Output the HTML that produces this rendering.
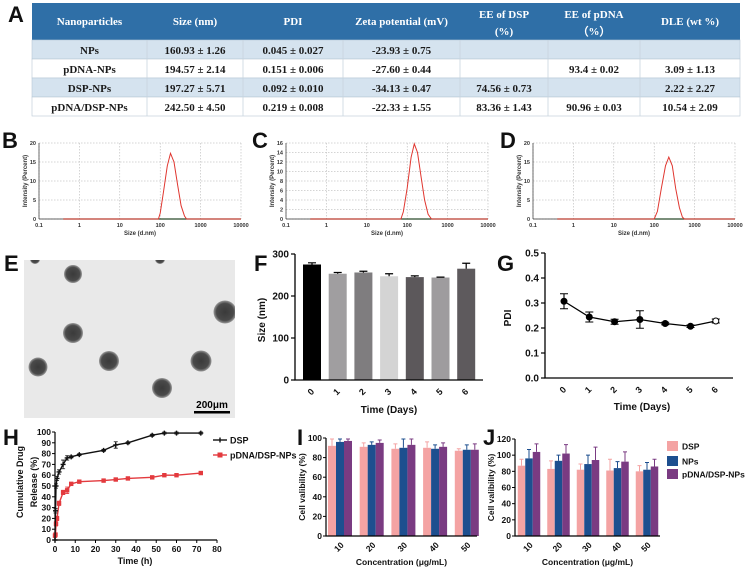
<!DOCTYPE html>
<html><head><meta charset="utf-8"><style>
html,body{margin:0;padding:0;background:#fff}
svg{display:block}
.ser{font-family:"Liberation Serif",serif;font-weight:bold}
.san{font-family:"Liberation Sans",sans-serif;font-weight:bold}
</style></head><body>
<svg id="fig" width="745" height="573" viewBox="0 0 745 573" xmlns="http://www.w3.org/2000/svg"></svg>
<script>
// ---------- data ----------
const tableHeaders = [["Nanoparticles"],["Size (nm)"],["PDI"],["Zeta potential (mV)"],["EE of DSP","(%)"],["EE of pDNA","（%）"],["DLE (wt %)"]];
const tableRows = [
 ["NPs","160.93 ± 1.26","0.045 ± 0.027","-23.93 ± 0.75","","",""],
 ["pDNA-NPs","194.57 ± 2.14","0.151 ± 0.006","-27.60 ± 0.44","","93.4 ± 0.02","3.09 ± 1.13"],
 ["DSP-NPs","197.27 ± 5.71","0.092 ± 0.010","-34.13 ± 0.47","74.56 ± 0.73","","2.22 ± 2.27"],
 ["pDNA/DSP-NPs","242.50 ± 4.50","0.219 ± 0.008","-22.33 ± 1.55","83.36 ± 1.43","90.96 ± 0.03","10.54 ± 2.09"]];
const dlsBSize = [0.4,90,100,120,150,180,220,270,330,400,450,10000];
const dlsBInt  = [0,0,1.5,7,14,17.3,15,9,3.5,0.8,0,0];
const dlsCSize = [0.4,70,80,100,125,150,180,220,270,330,400,10000];
const dlsCInt  = [0,0,1.5,6.5,13,15.8,14,9,4,1,0,0];
const dlsDSize = [0.4,100,120,150,190,230,280,340,420,500,560,10000];
const dlsDInt  = [0,0,2,8,14,16.3,14,8,3,0.5,0,0];
const fDays = ["0","1","2","3","4","5","6"];
const fSize = [275,253,256,247,245,244,265];
const fErr  = [4,3,3,6,3,1,13];
const gPdi  = [0.307,0.244,0.225,0.234,0.218,0.207,0.228];
const gErr  = [0.03,0.02,0.01,0.035,0.005,0.005,0.008];
const hTime = [0,0.25,0.5,1,2,4,6,8,12,24,30,36,48,54,60,72];
const hDsp  = [0,27,50,57,63,70,76,77,79,83,88,90,97,99,99,99];
const hDspErr=[0,2,2,2,2,4,2,1,1,1,3,1,1,1,1,1];
const hNp   = [4,5,15,20,34,44,46,52,54,55,56,57,58,60,60,62];
const hNpErr= [1,1,2,2,2,2,3,1,1,1,1,1,1,1,1,1];
const concLabels = ["10","20","30","40","50"];
const iDsp = [92,91,89,90,87], iDspE=[7,4,5,6,2];
const iNps = [96,93,90,89,88], iNpsE=[3,3,9,4,5];
const iPd  = [97,95,93,91,88], iPdE =[2,3,6,4,6];
const jDsp = [87,83,82,81,80], jDspE=[8,10,7,14,7];
const jNps = [96,93,89,84,82], jNpsE=[11,7,11,8,9];
const jPd  = [104,102,94,92,86], jPdE=[10,11,16,12,9];

// ---------- helpers ----------
const NS="http://www.w3.org/2000/svg";
const svg=document.getElementById('fig');
function mk(tag,attrs,parent){const e=document.createElementNS(NS,tag);for(const k in attrs)e.setAttribute(k,attrs[k]);(parent||svg).appendChild(e);return e;}
function txt(s,x,y,size,cls,anchor,parent,extra){const e=mk('text',Object.assign({x:x,y:y,'font-size':size,class:cls,'text-anchor':anchor||'middle',fill:'#111'},extra||{}),parent);e.textContent=s;return e;}
function grp(){return mk('g',{});}

// panel letters
const letters=[["A",8,22],["B",2,148],["C",252,148],["D",500,148],["E",4,271],["F",254,271],["G",497,271],["H",3,445],["I",297,445],["J",483,445]];
for(const L of letters){const t=txt(L[0],L[1],L[2],22,'san','start');

}

// ---------- A table ----------
(function(){
const g=grp();


const cols=[32,147,243,343,460,548,640,740];
const rowY=[40,59,78,97,116];
mk('rect',{x:32,y:3,width:708,height:37,fill:'#2f6fa7'},g);
for(let r=0;r<4;r++){const rc=mk('rect',{x:32,y:rowY[r],width:708,height:19,fill:r%2==0?'#d5e3ef':'#ffffff',stroke:'#b8c8d6','stroke-width':0.6},g);

}
for(let c=1;c<7;c++){mk('line',{x1:cols[c],y1:40,x2:cols[c],y2:116,stroke:'#c8d4de','stroke-width':0.8},g);}
for(let c=0;c<7;c++){const cx=(cols[c]+cols[c+1])/2;const h=tableHeaders[c];
 if(h.length==1){const t=txt(h[0],cx,25,11,'ser','middle',g,{fill:'#fff'});}
 else{const t=txt(h[0],cx,18,11,'ser','middle',g,{fill:'#fff'});
 const t2=txt(h[1],cx,35,11,'ser','middle',g,{fill:'#fff'});}
}
for(let r=0;r<4;r++)for(let c=0;c<7;c++){if(!tableRows[r][c])continue;
 const t=txt(tableRows[r][c],(cols[c]+cols[c+1])/2,rowY[r]+14,11,'ser','middle',g,{fill:'#1a1a1a'});
 
 }
})();

// ---------- DLS B/C/D ----------
function dls(name,x0,x1,ymax,ystep,sizes,ints){
 const g=grp();
 
 
 const y0=219,yt=143;
 const sx=v=>x0+(Math.log10(v)+1)/5*(x1-x0);
 const sy=v=>y0-v/ymax*(y0-yt);
 for(let d=-1;d<=4;d++){const x=sx(Math.pow(10,d));mk('line',{x1:x,y1:yt,x2:x,y2:y0,stroke:'#aaa','stroke-width':0.5,'stroke-dasharray':'1.5,1.5'},g);
  const t=txt(String(Math.pow(10,d)).replace('0.1','0.1'),x,227,5.5,'san','middle',g,{fill:'#333'});
  
  }
 for(let v=0;v<=ymax;v+=ystep){const y=sy(v);mk('line',{x1:x0,y1:y,x2:x1,y2:y,stroke:'#aaa','stroke-width':0.5,'stroke-dasharray':'1.5,1.5'},g);
  const t=txt(String(v),x0-3,y+2,5.5,'san','end',g,{fill:'#333'});
  
  }
 mk('line',{x1:x0,y1:yt,x2:x0,y2:y0,stroke:'#333','stroke-width':0.7},g);
 mk('line',{x1:x0,y1:y0,x2:x1,y2:y0,stroke:'#333','stroke-width':0.7},g);
 mk('line',{x1:sx(0.4),y1:y0,x2:x1,y2:y0,stroke:'#2a4a2a','stroke-width':1.2},g);
 const pts=sizes.map((s,i)=>sx(s).toFixed(1)+','+sy(ints[i]).toFixed(1)).join(' ');
 const pl=mk('polyline',{points:pts,fill:'none',stroke:'#e0362f','stroke-width':1},g);
 
 
 const xt=txt('Size (d.nm)',(x0+x1)/2,235,6,'san','middle',g,{fill:'#333'});
 
 
 const yl=txt('Intensity (Percent)',0,0,6,'san','middle',g,{fill:'#333',transform:`translate(${x0-12},${(y0+yt)/2}) rotate(-90)`});
 
 
}
dls('dls-chart-b',39,241,20,5,dlsBSize,dlsBInt);
dls('dls-chart-c',286,488,16,2,dlsCSize,dlsCInt);
dls('dls-chart-d',533,735,20,5,dlsDSize,dlsDInt);

// ---------- E TEM image ----------
(function(){
const g=grp();


const defs=mk('defs',{},g);
const rg=mk('radialGradient',{id:'dot'},defs);
mk('stop',{offset:'0','stop-color':'#3a3a3a'},rg);mk('stop',{offset:'0.75','stop-color':'#4a4a4a'},rg);mk('stop',{offset:'1','stop-color':'#9a9a9a'},rg);
mk('clipPath',{id:'ec'},defs).appendChild(document.createElementNS(NS,'rect'));
const cr=defs.querySelector('#ec rect');cr.setAttribute('x',24);cr.setAttribute('y',260);cr.setAttribute('width',211);cr.setAttribute('height',158);
mk('rect',{x:24,y:260,width:211,height:158,fill:'#e9e9e9'},g);
const cg=mk('g',{'clip-path':'url(#ec)'},g);
const dots=[[73,274,9],[73,333,10],[38,367,9.5],[109,361,10],[162,388,10],[201,361,10.5],[225,312,11.5],[35,259,5],[160,259,5]];
for(const d of dots){const c=mk('circle',{cx:d[0],cy:d[1],r:d[2],fill:'url(#dot)'},cg);

}
const sb=mk('rect',{x:194,y:411,width:36,height:2.5,fill:'#000'},g);


const st=txt('200μm',212,408,10,'san','middle',g,{fill:'#000','font-weight':'normal'});


})();

// ---------- F bar chart ----------
(function(){
const g=grp();


const x0=295,x1=483,y0=380,ppu=0.42;
const sy=v=>y0-v*ppu, sx=i=>312+i*25.7;
const cols=['#000','#a09ea0','#7f7d7f','#d4d4d4','#5c585b','#9e9c9e','#5e5a5d'];
for(let i=0;i<fSize.length;i++){
 const b=mk('rect',{x:sx(i)-9,y:sy(fSize[i]),width:18,height:fSize[i]*ppu,fill:cols[i]},g);
 
 
 const e=mk('path',{d:`M${sx(i)},${sy(fSize[i])} V${sy(fSize[i]+fErr[i])} M${sx(i)-4},${sy(fSize[i]+fErr[i])} H${sx(i)+4}`,stroke:'#000','stroke-width':1.2,fill:'none'},g);
 
 
 const t=txt(fDays[i],0,0,9,'san','middle',g,{transform:`translate(${sx(i)+1},${y0+14}) rotate(-45)`});
 
 
}
mk('path',{d:`M${x0},${sy(300)} V${y0} H${x1}`,stroke:'#000','stroke-width':1.3,fill:'none'},g);
for(let v=0;v<=300;v+=100){mk('line',{x1:x0-4,y1:sy(v),x2:x0,y2:sy(v),stroke:'#000','stroke-width':1.2},g);
 const t=txt(String(v),x0-6,sy(v)+3.5,10,'san','end',g);
 
 }
const xt=txt('Time (Days)',389,413,10,'san','middle',g);


const yt=txt('Size (nm)',0,0,10,'san','middle',g,{transform:`translate(${265},${320}) rotate(-90)`});


})();

// ---------- G line chart ----------
(function(){
const g=grp();


const x0=545,x1=733,y0=378,ppu=250;
const sy=v=>y0-v*ppu, sx=i=>564+i*25.3;
mk('path',{d:`M${x0},${sy(0.5)} V${y0} H${x1}`,stroke:'#000','stroke-width':1.3,fill:'none'},g);
for(let k=0;k<=5;k++){const v=k/10;mk('line',{x1:x0-4,y1:sy(v),x2:x0,y2:sy(v),stroke:'#000','stroke-width':1.2},g);
 const t=txt(v.toFixed(1),x0-6,sy(v)+3.5,10,'san','end',g);
 
 }
const ln=mk('polyline',{points:gPdi.map((v,i)=>sx(i)+','+sy(v)).join(' '),fill:'none',stroke:'#000','stroke-width':1.3},g);


for(let i=0;i<gPdi.length;i++){
 const a=sy(gPdi[i]+gErr[i]),b=sy(gPdi[i]-gErr[i]),x=sx(i);
 const e=mk('path',{d:`M${x},${a} V${b} M${x-4},${a} H${x+4} M${x-4},${b} H${x+4}`,stroke:'#000','stroke-width':1.1,fill:'none'},g);
 
 
 const p=mk('circle',{cx:x,cy:sy(gPdi[i]),r:3,fill:i==6?'#fff':'#000',stroke:'#000','stroke-width':1},g);
 
 
 const t=txt(fDays[i],0,0,9,'san','middle',g,{transform:`translate(${x+1},${y0+14}) rotate(-45)`});
 
 
}
const xt=txt('Time (Days)',642,410,10,'san','middle',g);


const yt=txt('PDI',0,0,10,'san','middle',g,{transform:`translate(${511},${318}) rotate(-90)`});


})();

// ---------- H release ----------
(function(){
const g=grp();


const x0=55,x1=217,y0=540,yt=432;
const sx=v=>x0+v/80*(x1-x0), sy=v=>y0-v/100*(y0-yt);
mk('path',{d:`M${x0},${yt} V${y0} H${x1}`,stroke:'#000','stroke-width':1.2,fill:'none'},g);
for(let v=0;v<=100;v+=10){mk('line',{x1:x0-3,y1:sy(v),x2:x0,y2:sy(v),stroke:'#000'},g);
 const t=txt(String(v),x0-4,sy(v)+3,8.5,'san','end',g);
 
 }
for(let v=0;v<=80;v+=10){mk('line',{x1:sx(v),y1:y0,x2:sx(v),y2:y0+3,stroke:'#000'},g);
 const t=txt(String(v),sx(v),y0+12,8.5,'san','middle',g);
 
 }
function series(vals,errs,color,marker,name){
 const l=mk('polyline',{points:hTime.map((t,i)=>sx(t)+','+sy(vals[i])).join(' '),fill:'none',stroke:color,'stroke-width':1.4},g);
 
 
 hTime.forEach((t,i)=>{const x=sx(t),a=sy(vals[i]+errs[i]),b=sy(vals[i]-errs[i]);
  mk('path',{d:`M${x},${a} V${b} M${x-2},${a} H${x+2} M${x-2},${b} H${x+2}`,stroke:color,'stroke-width':0.8,fill:'none'},g);
  let m;
  if(marker=='sq'){m=mk('rect',{x:x-2.2,y:sy(vals[i])-2.2,width:4.4,height:4.4,fill:color},g);}
  else{m=mk('path',{d:`M${x-2.5},${sy(vals[i])} H${x+2.5} M${x},${sy(vals[i])-2.5} V${sy(vals[i])+2.5}`,stroke:color,'stroke-width':1.4},g);}
  
  
 });
}
series(hNp,hNpErr,'#e33a3e','sq','pdna-dsp-nps');
series(hDsp,hDspErr,'#111','plus','dsp');
const leg=[['DSP','#111',440,'plus'],['pDNA/DSP-NPs','#e33a3e',455,'sq']];
for(const L of leg){mk('line',{x1:213,y1:L[2],x2:227,y2:L[2],stroke:L[1],'stroke-width':1.4},g);
 if(L[3]=='sq')mk('rect',{x:217.5,y:L[2]-2.5,width:5,height:5,fill:L[1]},g);else mk('path',{d:`M220,${L[2]-2.5} V${L[2]+2.5}`,stroke:L[1],'stroke-width':1.4},g);
 const t=txt(L[0],230,L[2]+3.5,9,'san','start',g);
 
 }
const xt=txt('Time (h)',135,564,9,'san','middle',g);


const y1=txt('Cumulative Drug',0,0,9,'san','middle',g,{transform:'translate(23,482) rotate(-90)'});


const y2=txt('Release (%)',0,0,9,'san','middle',g,{transform:'translate(37,482) rotate(-90)'});


})();

// ---------- I / J viability ----------
function viab(name,x0,x1,y0,yt,ymax,c0,sp,bw,sets,errs){
 const g=grp();
 
 
 const sy=v=>y0-v/ymax*(y0-yt);
 const colors=['#f4a3a3','#1d4f8f','#7a3b82'];
 for(let k=0;k<5;k++){const cx=c0+k*sp;
  for(let s=0;s<3;s++){const v=sets[s][k],e=errs[s][k],x=cx+(s-1)*bw;
   const b=mk('rect',{x:x-bw/2,y:sy(v),width:bw,height:y0-sy(v),fill:colors[s]},g);
   
   
   mk('path',{d:`M${x},${sy(v)} V${sy(v+e)} M${x-2},${sy(v+e)} H${x+2}`,stroke:colors[s],'stroke-width':1,fill:'none'},g);
  }
  const t=txt(concLabels[k],0,0,8.5,'san','middle',g,{transform:`translate(${cx+1},${y0+13}) rotate(-45)`});
  
  
 }
 mk('path',{d:`M${x0},${yt} V${y0} H${x1}`,stroke:'#000','stroke-width':1.2,fill:'none'},g);
 for(let v=0;v<=ymax;v+=20){mk('line',{x1:x0-3,y1:sy(v),x2:x0,y2:sy(v),stroke:'#000'},g);
  const t=txt(String(v),x0-4,sy(v)+3,8.5,'san','end',g);
  
  }
 const xt=txt('Concentration (μg/mL)',(x0+x1)/2,565,8.5,'san','middle',g);
 
 
 const yl=txt('Cell valibility (%)',0,0,8.5,'san','middle',g,{transform:`translate(${x0-21},${(y0+yt)/2}) rotate(-90)`});
 
 
}
viab('viability-chart-i',326,477,536,438,100,340,31.7,8,[iDsp,iNps,iPd],[iDspE,iNpsE,iPdE]);
viab('viability-chart-j',515,660,536,439,120,529,29.5,7.5,[jDsp,jNps,jPd],[jDspE,jNpsE,jPdE]);
const legJ=[['DSP','#f4a3a3',446],['NPs','#1d4f8f',461],['pDNA/DSP-NPs','#7a3b82',474]];
for(const L of legJ){const r=mk('rect',{x:667,y:L[2]-5,width:11,height:10,fill:L[1]});
 
 
 const t=txt(L[0],682,L[2]+3.5,8.5,'san','start');
 
 }
</script>
</body></html>
